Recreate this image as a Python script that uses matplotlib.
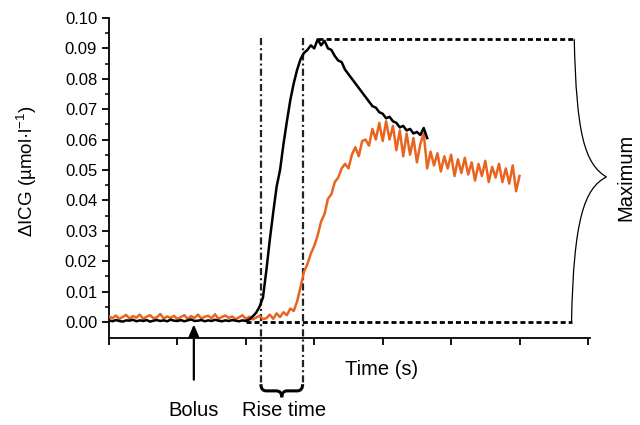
import numpy as np
import matplotlib
matplotlib.use("Agg")
import matplotlib.pyplot as plt
from matplotlib.path import Path
from matplotlib.patches import PathPatch

plt.rcParams["font.family"] = ["Liberation Sans", "DejaVu Sans"]
plt.rcParams["mathtext.fontset"] = "custom"
plt.rcParams["mathtext.rm"] = "Liberation Sans"
plt.rcParams["mathtext.it"] = "Liberation Sans"

# sampling interval of both traces (s)
SAMPLE_STEP = 0.5

# black trace, nmol/l (converted to µmol/l below)
black_nmol = [
    0.5, 0.2, 0.6, 0.3, 0.1, 0.5, 0.4, 0.7, 0.2, 0.5,
    0.3, 0.6, 0.1, 0.4, 0.6, 0.3, 0.5, 0.2, 0.7, 0.4,
    0.3, 0.6, 0.2, 0.5, 0.8, 0.3, 0.4, 0.6, 0.2, 0.5,
    0.3, 0.7, 0.4, 0.2, 0.5, 0.3, 0.6, 0.4, 0.2, 0.5,
    0.3,
    0.8, 1.8, 3.0, 5.0, 8.0, 17.0, 27.0, 36.0, 44.5, 50.0,
    58.5, 66.0, 73.0, 78.5, 83.0, 86.5, 88.5, 89.5, 91.0, 90.0,
    93.0, 91.0, 92.5, 90.0, 89.5, 87.5, 86.0, 85.5, 83.0, 81.5,
    80.0, 78.5, 77.0, 75.5, 74.0, 72.5, 71.0, 70.5, 69.0, 68.5,
    67.0, 67.5, 66.0, 65.5, 64.0, 64.5, 63.0, 63.5, 62.0, 62.5,
    61.5, 63.8, 60.5,
]

# orange trace, nmol/l
orange_nmol = [
    1.8, 1.2, 2.1, 1.0, 1.6, 2.3, 1.1, 1.9, 1.4, 2.4,
    1.0, 1.7, 2.2, 1.2, 1.5, 2.6, 1.1, 1.8, 1.3, 2.0,
    0.9, 1.6, 2.2, 1.0, 1.9, 1.3, 2.4, 1.1, 1.7, 2.0,
    1.2, 2.5, 1.0, 1.6, 2.1, 1.3, 1.8, 0.9, 1.5, 2.2,
    1.0, 1.7, 0.8, 1.4, 2.0, 0.9,
    1.2, 2.4, 1.0, 2.8, 1.6, 3.2, 2.2, 4.4, 3.6, 6.8,
    11.5, 16.5, 19.0, 22.5, 25.0, 28.5, 33.0, 35.5, 40.5, 42.0,
    46.0, 47.5, 50.5, 52.0, 50.5, 55.0, 57.5, 54.5, 59.5, 60.0,
    58.0, 63.5, 60.0, 65.5, 59.5, 66.0, 60.0, 64.5, 56.5, 63.0,
    54.5, 62.0, 55.0, 60.5, 52.5, 58.5, 62.0, 50.5, 56.0, 51.5,
    55.5, 49.5, 54.5, 50.5, 55.0, 48.0, 53.5, 49.0, 54.0, 48.5,
    52.5, 46.5, 52.0, 48.0, 53.0, 46.0, 51.0, 47.5, 52.0, 46.0,
    50.5, 45.5, 51.5, 43.0, 48.0,
]

# annotation anchors (s, µmol/l)
BOLUS_T = 12.4
RISE_START = 22.2
RISE_END = 28.3
PEAK_T = 30.5
PEAK_LEVEL = 0.093
BASE_START = 20.0
MAX_END = 68.0

y_ticks = [0.00, 0.01, 0.02, 0.03, 0.04, 0.05, 0.06, 0.07, 0.08, 0.09, 0.10]
x_ticks = [0, 10, 20, 30, 40, 50, 60, 70]

black = np.array(black_nmol) / 1000
orange = np.array(orange_nmol) / 1000
t_black = np.arange(len(black)) * SAMPLE_STEP
t_orange = np.arange(len(orange)) * SAMPLE_STEP

fig = plt.figure(figsize=(6.4, 4.25), dpi=100)
ax = fig.add_axes([109 / 640, 1 - 338 / 425, 481 / 640, 320 / 425])

ax.plot(t_orange, orange, color="#E9641F", lw=1.8, zorder=3)
ax.plot(t_black, black, color="black", lw=1.8, zorder=4)

# dashed guides for baseline and maximum
dash = (0, (1.8, 1.1))
ax.plot([PEAK_T, MAX_END], [PEAK_LEVEL, PEAK_LEVEL], ls=dash, lw=2, color="black", zorder=2)
ax.plot([BASE_START, MAX_END - 0.4], [0, 0], ls=dash, lw=2, color="black", zorder=2)

# rise time markers, running below the axis
dashdot = (0, (3.2, 1.4, 0.9, 1.4))
for t in (RISE_START, RISE_END):
    ax.plot([t, t], [PEAK_LEVEL + 0.0005, -0.0205], ls=dashdot, lw=1.6,
            color="#222222", clip_on=False, zorder=2)

# horizontal brace under the rise time
y_top, y_bar, y_tip = -0.0205, -0.0227, -0.0248
mid = (RISE_START + RISE_END) / 2
dx = 0.8
verts = [
    (RISE_START, y_top), (RISE_START, y_bar), (RISE_START + dx, y_bar),
    (mid - dx, y_bar), (mid, y_bar), (mid, y_tip),
    (mid, y_bar), (mid + dx, y_bar),
    (RISE_END - dx, y_bar), (RISE_END, y_bar), (RISE_END, y_top),
]
codes = [Path.MOVETO, Path.CURVE3, Path.CURVE3, Path.LINETO, Path.CURVE3, Path.CURVE3,
         Path.CURVE3, Path.CURVE3, Path.LINETO, Path.CURVE3, Path.CURVE3]
ax.add_patch(PathPatch(Path(verts, codes), fill=False, lw=2.2, color="black", clip_on=False))

# vertical brace for the maximum
tip_y = 0.0477
verts = [
    (MAX_END, PEAK_LEVEL), (MAX_END + 0.3, 0.062), (MAX_END + 1.5, 0.052), (MAX_END + 4.7, tip_y),
    (MAX_END + 1.5, 0.044), (MAX_END - 0.1, 0.034), (MAX_END - 0.4, 0.0),
]
codes = [Path.MOVETO, Path.CURVE4, Path.CURVE4, Path.CURVE4, Path.CURVE4, Path.CURVE4, Path.CURVE4]
ax.add_patch(PathPatch(Path(verts, codes), fill=False, lw=0.9, color="black", clip_on=False))

# bolus arrow
ax.annotate("", xy=(BOLUS_T, -0.0008), xytext=(BOLUS_T, -0.019),
            arrowprops=dict(arrowstyle="-|>,head_length=0.7,head_width=0.3", lw=1.6,
                            color="black", shrinkA=0, shrinkB=0),
            annotation_clip=False)

ax.text(BOLUS_T, -0.029, "Bolus", ha="center", va="center", fontsize=14.5)
ax.text(mid + 0.4, -0.029, "Rise time", ha="center", va="center", fontsize=14.5)
ax.text(39.8, -0.0158, "Time (s)", ha="center", va="center", fontsize=14.5)
ax.text(75.6, tip_y, "Maximum", ha="center", va="center", rotation=90, fontsize=14.5)

ax.set_xlim(0, 70.3)
ax.set_ylim(-0.0053, 0.100)
ax.set_xticks(x_ticks)
ax.set_xticklabels([])
ax.set_yticks(y_ticks)
ax.set_yticklabels([f"{v:.2f}" for v in y_ticks], fontsize=12)
ax.set_yticks([v + 0.005 for v in y_ticks[:-1]], minor=True)
ax.tick_params(axis="both", which="major", direction="out", length=5, width=1.3)
ax.tick_params(axis="y", which="minor", direction="out", length=3, width=1.1)
ax.spines["top"].set_visible(False)
ax.spines["right"].set_visible(False)
ax.spines["left"].set_linewidth(1.3)
ax.spines["bottom"].set_linewidth(1.3)

ax.set_ylabel("ΔICG (µmol·l$^{\\mathrm{-1}}$)", fontsize=13.5, va="center")
ax.yaxis.set_label_coords(-0.17, 0.52)

fig.savefig("out.png", dpi=100)
